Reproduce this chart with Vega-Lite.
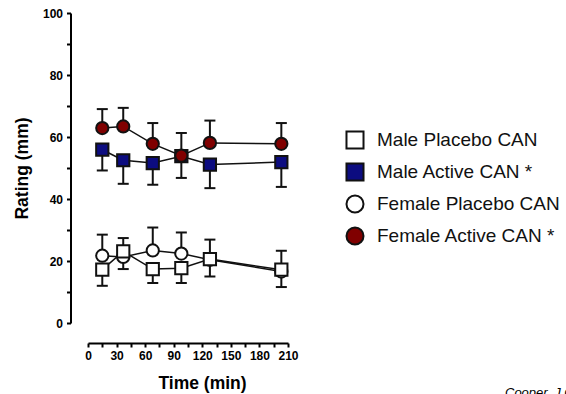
{
  "$schema": "https://vega.github.io/schema/vega-lite/v6.json",
  "width": 200,
  "height": 310,
  "autosize": {"type": "none"},
  "padding": {"left": 88, "top": 13, "right": 278, "bottom": 71},
  "background": "white",
  "config": {
    "font": "Liberation Sans",
    "view": {"stroke": null},
    "axis": {"grid": false}
  },
  "title": {
    "text": "Cooper, J Clin Invest",
    "orient": "bottom",
    "anchor": "start",
    "frame": "group",
    "dx": 417,
    "offset": -5,
    "fontSize": 13,
    "fontStyle": "italic",
    "fontWeight": "normal",
    "font": "Liberation Sans",
    "color": "black"
  },
  "data": {
    "values": [
      {"series": "Female Placebo CAN", "time": 15, "mean": 21.7, "err": 28.5},
      {"series": "Female Placebo CAN", "time": 37, "mean": 21.3, "err": 27.4},
      {"series": "Female Placebo CAN", "time": 68, "mean": 23.4, "err": 30.8},
      {"series": "Female Placebo CAN", "time": 98, "mean": 22.4, "err": 29.2},
      {"series": "Female Placebo CAN", "time": 128, "mean": 20.4, "err": 26.9},
      {"series": "Female Placebo CAN", "time": 203, "mean": 16.6, "err": 23.3},
      {"series": "Male Placebo CAN", "time": 15, "mean": 17.2, "err": 12.0},
      {"series": "Male Placebo CAN", "time": 37, "mean": 23.1, "err": 17.4},
      {"series": "Male Placebo CAN", "time": 68, "mean": 17.4, "err": 12.9},
      {"series": "Male Placebo CAN", "time": 98, "mean": 17.7, "err": 12.9},
      {"series": "Male Placebo CAN", "time": 128, "mean": 20.6, "err": 15.0},
      {"series": "Male Placebo CAN", "time": 203, "mean": 17.2, "err": 11.6},
      {"series": "Male Active CAN *", "time": 15, "mean": 55.9, "err": 49.2},
      {"series": "Male Active CAN *", "time": 37, "mean": 52.5, "err": 44.9},
      {"series": "Male Active CAN *", "time": 68, "mean": 51.6, "err": 44.6},
      {"series": "Male Active CAN *", "time": 98, "mean": 53.8, "err": 46.8},
      {"series": "Male Active CAN *", "time": 128, "mean": 51.1, "err": 43.5},
      {"series": "Male Active CAN *", "time": 203, "mean": 51.9, "err": 43.9},
      {"series": "Female Active CAN *", "time": 15, "mean": 62.9, "err": 69.0},
      {"series": "Female Active CAN *", "time": 37, "mean": 63.4, "err": 69.4},
      {"series": "Female Active CAN *", "time": 68, "mean": 57.8, "err": 64.5},
      {"series": "Female Active CAN *", "time": 98, "mean": 54.0, "err": 61.3},
      {"series": "Female Active CAN *", "time": 128, "mean": 58.1, "err": 65.3},
      {"series": "Female Active CAN *", "time": 203, "mean": 57.8, "err": 64.5}
    ]
  },
  "encoding": {
    "x": {
      "field": "time",
      "type": "quantitative",
      "scale": {"domain": [0, 210], "nice": false, "zero": false},
      "axis": {
        "title": "Time (min)",
        "values": [0, 15, 30, 45, 60, 75, 90, 105, 120, 135, 150, 165, 180, 195, 210],
        "labelExpr": "datum.value % 30 === 0 ? datum.label : ''",
        "offset": 20,
        "domainColor": "black",
        "domainWidth": 2,
        "tickColor": "black",
        "tickWidth": 2,
        "tickSize": 4,
        "labelPadding": 3,
        "labelFont": "Liberation Sans",
        "labelFontWeight": "bold",
        "labelFontSize": 12,
        "labelColor": "black",
        "labelFlush": false,
        "labelOverlap": false,
        "titleFont": "Liberation Sans",
        "titleFontWeight": "bold",
        "titleFontSize": 17.5,
        "titleColor": "black",
        "titlePadding": 13,
        "titleX": 114
      }
    },
    "y": {
      "field": "mean",
      "type": "quantitative",
      "scale": {"domain": [0, 100], "nice": false},
      "axis": {
        "title": "Rating (mm)",
        "values": [0, 10, 20, 30, 40, 50, 60, 70, 80, 90, 100],
        "labelExpr": "datum.value % 20 === 0 ? datum.label : ''",
        "offset": 17.5,
        "domainColor": "black",
        "domainWidth": 2,
        "tickColor": "black",
        "tickWidth": 2,
        "tickSize": 4,
        "labelPadding": 4,
        "labelFont": "Liberation Sans",
        "labelFontWeight": "bold",
        "labelFontSize": 12,
        "labelColor": "black",
        "labelFlush": false,
        "labelOverlap": false,
        "titleFont": "Liberation Sans",
        "titleFontWeight": "bold",
        "titleFontSize": 17.5,
        "titleColor": "black",
        "titlePadding": 11
      }
    }
  },
  "layer": [
    {
      "mark": {"type": "rule", "color": "#111111", "strokeWidth": 2},
      "encoding": {"y2": {"field": "err"}, "detail": {"field": "series"}}
    },
    {
      "mark": {"type": "tick", "orient": "horizontal", "color": "#111111", "size": 11, "thickness": 2, "opacity": 1},
      "encoding": {"y": {"field": "err", "type": "quantitative"}, "detail": {"field": "series"}}
    },
    {
      "mark": {"type": "line", "color": "#111111", "strokeWidth": 1.5},
      "encoding": {"detail": {"field": "series"}}
    },
    {
      "mark": {"type": "point", "filled": true, "opacity": 1, "strokeWidth": 2, "size": 150},
      "encoding": {
        "fill": {
          "field": "series",
          "type": "nominal",
          "scale": {
            "domain": ["Male Placebo CAN", "Male Active CAN *", "Female Placebo CAN", "Female Active CAN *"],
            "range": ["#ffffff", "#0c0c80", "#ffffff", "#800000"]
          },
          "legend": {
            "title": null,
            "orient": "none",
            "legendX": 257,
            "legendY": 117,
            "symbolSize": 290,
            "symbolStrokeWidth": 2,
            "symbolOpacity": 1,
            "labelFont": "Liberation Sans",
            "labelFontSize": 19,
            "labelColor": "#111111",
            "labelOffset": 12,
            "rowPadding": 6,
            "labelLimit": 400
          }
        },
        "stroke": {
          "field": "series",
          "type": "nominal",
          "scale": {
            "domain": ["Male Placebo CAN", "Male Active CAN *", "Female Placebo CAN", "Female Active CAN *"],
            "range": ["#111111", "#111111", "#111111", "#111111"]
          },
          "legend": {
            "title": null,
            "orient": "none",
            "legendX": 257,
            "legendY": 117,
            "symbolSize": 290,
            "symbolStrokeWidth": 2,
            "symbolOpacity": 1,
            "labelFont": "Liberation Sans",
            "labelFontSize": 19,
            "labelColor": "#111111",
            "labelOffset": 12,
            "rowPadding": 6,
            "labelLimit": 400
          }
        },
        "shape": {
          "field": "series",
          "type": "nominal",
          "scale": {
            "domain": ["Male Placebo CAN", "Male Active CAN *", "Female Placebo CAN", "Female Active CAN *"],
            "range": ["square", "square", "circle", "circle"]
          },
          "legend": {
            "title": null,
            "orient": "none",
            "legendX": 257,
            "legendY": 117,
            "symbolSize": 290,
            "symbolStrokeWidth": 2,
            "symbolOpacity": 1,
            "labelFont": "Liberation Sans",
            "labelFontSize": 19,
            "labelColor": "#111111",
            "labelOffset": 12,
            "rowPadding": 6,
            "labelLimit": 400
          }
        }
      }
    }
  ]
}
